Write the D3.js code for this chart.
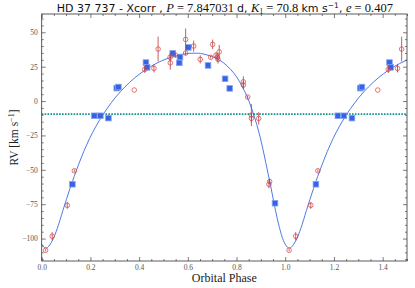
<!DOCTYPE html>
<html>
<head>
<meta charset="utf-8">
<script src="https://cdn.jsdelivr.net/npm/d3@7/dist/d3.min.js"></script>
<style>
  body { margin: 0; background: #fff; }
  svg { display: block; }
</style>
</head>
<body>
<div id="chart"></div>
<script>
// red points (with error bars), phase in [0,1)
var redPhase = [0.016, 0.043, 0.105, 0.134, 0.380, 0.423, 0.461, 0.478, 0.527, 0.528,
                0.549, 0.591, 0.591, 0.624, 0.651, 0.694, 0.702, 0.716, 0.721, 0.724,
                0.729, 0.828, 0.828, 0.846, 0.861, 0.861, 0.891, 0.933, 0.936];
var redRV    = [-108.5, -98.3, -75.8, -50.7, 8.0, 23.0, 23.8, 37.8, 31.8, 27.8,
                33.4, 44.8, 34.9, 40.0, 30.3, 31.8, 41.2, 33.4, 31.8, 30.3,
                35.8, 14.0, 11.6, 2.9, -10.2, -12.6, -12.6, -60.5, -58.5];
var redErr   = [0.8, 3, 2.5, 1, 0, 2.5, 3, 9, 3, 5,
                1.5, 8, 1.5, 4, 3, 1, 3.5, 2, 3, 3,
                5, 4, 3, 1, 8, 3, 4.5, 3, 2];

// blue squares
var bluePhase = [0.126, 0.216, 0.241, 0.274, 0.308, 0.315, 0.428, 0.433, 0.538, 0.565,
                 0.568, 0.602, 0.683, 0.753, 0.772, 0.958];
var blueRV    = [-60.5, -10.7, -10.7, -12.4, 9.4, 10.2, 28.0, 24.5, 34.7, 27.8,
                 32.0, 39.0, 25.9, 16.2, 9.2, -74.3];

// orbit curve, one period
var curvePhase = [-0.008, 0.008, 0.017, 0.025, 0.043, 0.064, 0.087, 0.116, 0.152, 0.196,
                  0.253, 0.322, 0.403, 0.492, 0.581, 0.626, 0.662, 0.732, 0.788, 0.832,
                  0.868, 0.897, 0.920, 0.941, 0.959, 0.976];
var curveRV    = [-101.2, -106.1, -106.8, -106.3, -101.7, -92.6, -79.6, -63.7, -45.9, -27.4,
                  -9.5, 6.6, 19.8, 29.2, 34.1, 34.8, 34.3, 29.6, 20.5, 7.6,
                  -8.4, -26.2, -44.7, -62.5, -78.6, -91.8];

var gammaRV = -9.5;
var xTicks = [0, 0.2, 0.4, 0.6, 0.8, 1.0, 1.2, 1.4];
var yTicks = [-100, -75, -50, -25, 0, 25, 50];

var W = 415, H = 288;
var mLeft = 41.7, mRight = 407, mTop = 14, mBottom = 261;

var svg = d3.select('#chart').append('svg')
    .attr('width', W).attr('height', H);
svg.append('rect').attr('width', W).attr('height', H).attr('fill', '#fff');

var x = d3.scaleLinear().domain([0, 1.5]).range([mLeft, mRight]);
var y = d3.scaleLinear().domain([-116.3, 63.3]).range([mBottom, mTop]);

svg.append('clipPath').attr('id', 'plotclip')
    .append('rect').attr('x', mLeft).attr('y', mTop)
    .attr('width', mRight - mLeft).attr('height', mBottom - mTop);

var plot = svg.append('g').attr('clip-path', 'url(#plotclip)');

// folded phases: show each period copy that falls inside the window
function folded(ph, vals, extra) {
    var out = [];
    [0, 1].forEach(function(k){
        ph.forEach(function(p, i){
            if (p + k <= 1.5) out.push({p: p + k, v: vals[i], e: extra ? extra[i] : 0});
        });
    });
    return out;
}

// gamma line
plot.append('line')
    .attr('x1', mLeft).attr('x2', mRight)
    .attr('y1', y(gammaRV)).attr('y2', y(gammaRV))
    .attr('stroke', '#11908f')
    .attr('stroke-width', 1.6)
    .attr('stroke-dasharray', '1.6,1.3');

// model curve
var cpts = [];
[0, 1, 2].forEach(function(k){
    curvePhase.forEach(function(p, i){ cpts.push([p + k, curveRV[i]]); });
});
plot.append('path')
    .datum(cpts)
    .attr('fill', 'none')
    .attr('stroke', '#4f78ea')
    .attr('stroke-width', 1)
    .attr('d', d3.line()
        .x(function(d){ return x(d[0]); })
        .y(function(d){ return y(d[1]); })
        .curve(d3.curveCatmullRom.alpha(0.5)));

// blue squares
var bl = folded(bluePhase, blueRV);
var sq = 5.6;
plot.append('g').selectAll('rect')
    .data(bl).enter().append('rect')
        .attr('x', function(d){ return x(d.p) - sq/2; })
        .attr('y', function(d){ return y(d.v) - sq/2; })
        .attr('width', sq).attr('height', sq)
        .attr('fill', '#3563e3')
        .attr('stroke', '#86a2f0')
        .attr('stroke-width', 0.8);

// red points with error bars
var rd = folded(redPhase, redRV, redErr);
var rg = plot.append('g');
rg.selectAll('line')
    .data(rd.filter(function(d){ return d.e > 0; })).enter().append('line')
        .attr('x1', function(d){ return x(d.p); })
        .attr('x2', function(d){ return x(d.p); })
        .attr('y1', function(d){ return y(d.v - d.e); })
        .attr('y2', function(d){ return y(d.v + d.e); })
        .attr('stroke', '#b8383c')
        .attr('stroke-opacity', 0.8)
        .attr('stroke-width', 1);
rg.selectAll('circle')
    .data(rd).enter().append('circle')
        .attr('cx', function(d){ return x(d.p); })
        .attr('cy', function(d){ return y(d.v); })
        .attr('r', 2.3)
        .attr('fill', 'none')
        .attr('stroke', '#d9403f')
        .attr('stroke-opacity', 0.9)
        .attr('stroke-width', 0.8);

// axes, ticks pointing in on all sides
var xMinor = d3.range(0, 1.501, 0.05).filter(function(v){ return Math.abs(v*5 - Math.round(v*5)) > 1e-6; });
var yMinor = d3.range(-115, 63, 5).filter(function(v){ return v % 25 !== 0; });
var fmtY = function(v){ return v < 0 ? '\u2212' + Math.abs(v) : '' + v; };
var serif = '"Liberation Serif", "DejaVu Serif", serif';
var sans = '"DejaVu Sans", sans-serif';

function styleAxis(g){
    g.select('.domain').remove();
    g.selectAll('line').attr('stroke', '#444').attr('stroke-width', 0.7);
    g.selectAll('text').attr('fill', '#555')
        .style('font-family', serif)
        .style('font-size', '7.5px');
}

svg.append('g').attr('transform', 'translate(0,' + mBottom + ')')
    .call(d3.axisBottom(x).tickValues(xTicks).tickSize(-4).tickPadding(3.5).tickFormat(d3.format('.1f')))
    .call(styleAxis);
svg.append('g').attr('transform', 'translate(0,' + mBottom + ')')
    .call(d3.axisBottom(x).tickValues(xMinor).tickSize(-2).tickFormat(''))
    .call(styleAxis);
svg.append('g').attr('transform', 'translate(0,' + mTop + ')')
    .call(d3.axisTop(x).tickValues(xTicks).tickSize(-4).tickFormat(''))
    .call(styleAxis);
svg.append('g').attr('transform', 'translate(0,' + mTop + ')')
    .call(d3.axisTop(x).tickValues(xMinor).tickSize(-2).tickFormat(''))
    .call(styleAxis);
svg.append('g').attr('transform', 'translate(' + mLeft + ',0)')
    .call(d3.axisLeft(y).tickValues(yTicks).tickSize(-4).tickPadding(4).tickFormat(fmtY))
    .call(styleAxis);
svg.append('g').attr('transform', 'translate(' + mLeft + ',0)')
    .call(d3.axisLeft(y).tickValues(yMinor).tickSize(-2).tickFormat(''))
    .call(styleAxis);
svg.append('g').attr('transform', 'translate(' + mRight + ',0)')
    .call(d3.axisRight(y).tickValues(yTicks).tickSize(-4).tickFormat(''))
    .call(styleAxis);
svg.append('g').attr('transform', 'translate(' + mRight + ',0)')
    .call(d3.axisRight(y).tickValues(yMinor).tickSize(-2).tickFormat(''))
    .call(styleAxis);

svg.append('rect')
    .attr('x', mLeft).attr('y', mTop)
    .attr('width', mRight - mLeft).attr('height', mBottom - mTop)
    .attr('fill', 'none').attr('stroke', '#333').attr('stroke-width', 0.8);

// axis labels
svg.append('text')
    .attr('x', (mLeft + mRight) / 2).attr('y', 282)
    .attr('text-anchor', 'middle')
    .style('font-family', serif).style('font-size', '12px')
    .attr('fill', '#222')
    .text('Orbital Phase');

var yl = svg.append('text')
    .attr('transform', 'translate(17.5,' + ((mTop + mBottom) / 2) + ') rotate(-90)')
    .attr('text-anchor', 'middle')
    .style('font-family', serif).style('font-size', '11.5px')
    .attr('fill', '#222');
yl.append('tspan').text('RV [km s');
yl.append('tspan').attr('dy', -4).style('font-size', '8px').text('\u22121');
yl.append('tspan').attr('dy', 4).text(']');

// title
var title = svg.append('text')
    .attr('x', (mLeft + mRight) / 2 + 0.5).attr('y', 12)
    .attr('text-anchor', 'middle')
    .attr('fill', '#111')
    .style('font-size', '11px');
var parts = [
    ['HD 37 737 - Xcorr ,  ', sans, 'normal', 0],
    ['P', serif, 'italic', 0],
    [' = 7.847031 ', serif, 'normal', 0],
    ['d, ', sans, 'normal', 0],
    ['K', serif, 'italic', 0],
    ['1', serif, 'normal', 2],
    [' = 70.8 ', serif, 'normal', -2],
    ['km s', sans, 'normal', 0],
    ['\u22121', sans, 'normal', -4],
    [', ', sans, 'normal', 4],
    ['e', serif, 'italic', 0],
    [' = 0.407', serif, 'normal', 0]
];
parts.forEach(function(p){
    var t = title.append('tspan')
        .style('font-family', p[1])
        .style('font-style', p[2])
        .attr('dy', p[3])
        .text(p[0]);
    if (p[1] === serif) t.style('font-size', '12.5px');
    if (p[0] === '1' || p[0] === '\u22121') t.style('font-size', '7.5px');
});
</script>
</body>
</html>
